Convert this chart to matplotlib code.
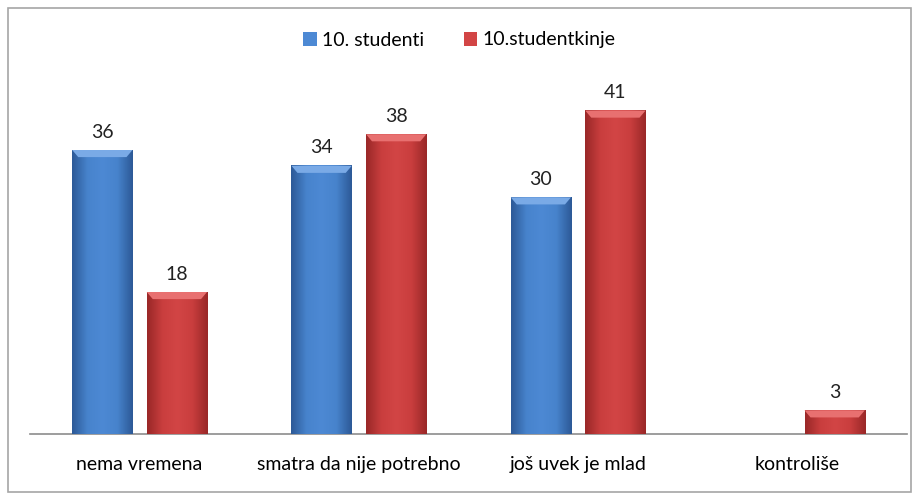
import numpy as np
import matplotlib.pyplot as plt
from matplotlib.patches import Rectangle
from matplotlib.colors import LinearSegmentedColormap

plt.rcParams['font.family'] = ['Lato', 'DejaVu Sans']

categories = ['nema vremena', 'smatra da nije potrebno', 'još uvek je mlad', 'kontroliše']
studenti = [36, 34, 30, 0]
studentkinje = [18, 38, 41, 3]
series_names = ['10. studenti', '10.studentkinje']

fig = plt.figure(figsize=(9.19, 5.0), dpi=100)
ax = fig.add_axes([30/919, 66/500, 877/919, 355/500])

# svijetli okvir oko cijelog grafikona
fig.patches.append(Rectangle((8/919, 8/500), 903/919, 484/500, transform=fig.transFigure,
                             fill=False, edgecolor='#a6a6a6', linewidth=1.2))

x = np.arange(len(categories))
w = 0.275
off = 0.33

blue = LinearSegmentedColormap.from_list('b', ['#2d5a98', '#4783cc', '#4d89d4', '#4783cc', '#2d5a98'])
red = LinearSegmentedColormap.from_list('r', ['#9a2828', '#c93e3e', '#d24545', '#c93e3e', '#9a2828'])
grad = np.linspace(0, 1, 64).reshape(1, -1)

def draw_bars(xs, vals, cmap, top_col, name):
    bars = ax.bar(xs, vals, w, color=cmap(0.5), label=name, zorder=2)
    for b, v in zip(bars, vals):
        if v <= 0:
            continue
        x0 = b.get_x()
        ax.imshow(grad, cmap=cmap, aspect='auto', extent=(x0, x0 + w, 0, v), zorder=3)
        # skošeni gornji rub
        bev = min(0.9, v * 0.3)
        ax.fill([x0, x0 + w, x0 + w * 0.9, x0 + w * 0.1], [v, v, v - bev, v - bev],
                color=top_col, zorder=4, lw=0)
        ax.text(x0 + w / 2, v + 1.2, str(v), ha='center', va='bottom', fontsize=14, color='#222222')
    return bars

draw_bars(x - off / 2 - 0.005, studenti, blue, '#7aaae6', series_names[0])
draw_bars(x + off / 2 + 0.005, studentkinje, red, '#e87070', series_names[1])

ax.set_xlim(-0.5, len(categories) - 0.5)
ax.set_ylim(0, 45)
ax.set_xticks(x)
ax.set_xticklabels(categories, fontsize=14)
ax.tick_params(axis='x', length=0, pad=16)
ax.set_yticks([])
for s in ['top', 'right', 'left']:
    ax.spines[s].set_visible(False)
ax.spines['bottom'].set_color('#8c8c8c')
ax.spines['bottom'].set_linewidth(1.2)

leg = fig.legend(loc='center', bbox_to_anchor=(0.5, 1 - 40/500), ncol=2, frameon=False,
                 fontsize=14, handlelength=0.7, handleheight=0.7, columnspacing=2.0, handletextpad=0.3)

fig.savefig('out.png', dpi=100)
